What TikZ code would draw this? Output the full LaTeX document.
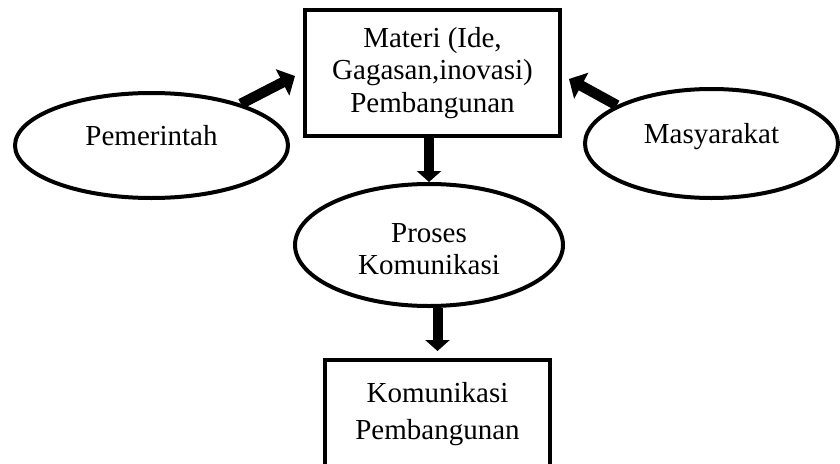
\documentclass[tikz,border=0pt]{standalone}
\usepackage{fontspec}
\setmainfont{Liberation Serif}
\usetikzlibrary{arrows.meta,shapes.geometric,calc}
\begin{document}
\begin{tikzpicture}[x=1pt,y=-1pt,
  every node/.style={font=\fontsize{29}{32.5}\selectfont, inner sep=0pt, align=center},
  boxnode/.style={draw, line width=4pt, rectangle},
  ovalnode/.style={draw, line width=4pt, ellipse},
  vertarrow/.style={line width=10pt, -{Triangle[width=24pt,length=11pt]}},
  diagarrow/.style={line width=10.5pt, -{Triangle[width=29pt,length=14pt]}},
]
\useasboundingbox (0,0) rectangle (840,463);
\clip (0,0) rectangle (840,463);
\node[boxnode, minimum width=255pt, minimum height=126pt] (mat) at (432.5,73)
  {Materi (Ide,\\Gagasan,inovasi)\\Pembangunan};
\node[ovalnode, minimum width=273pt, minimum height=105pt, text height=10pt, text depth=10pt] (pem) at (151.5,145.5) {Pemerintah};
\node[ovalnode, minimum width=253pt, minimum height=109pt, text height=10pt, text depth=10pt] (mas) at (711.5,143.5) {Masyarakat};
\node[ovalnode, minimum width=268pt, minimum height=122pt] (pro) at (429,245)
  {\rule{0pt}{27pt}Proses\\Komunikasi};
\node[boxnode, minimum width=225pt, minimum height=108pt] (kom) at (437.5,414)
  {Komunikasi\\[4.5pt]Pembangunan};
\draw[diagarrow] (pem.25) -- ($(mat.west)+(-8,3)$);
\draw[diagarrow] (mas.158) -- ($(mat.east)+(7,6)$);
\draw[vertarrow] (mat.south -| pro.north) -- (pro.north);
\draw[vertarrow] (pro.south -| kom.north) -- ($(kom.north)+(0,-7)$);
\end{tikzpicture}
\end{document}
